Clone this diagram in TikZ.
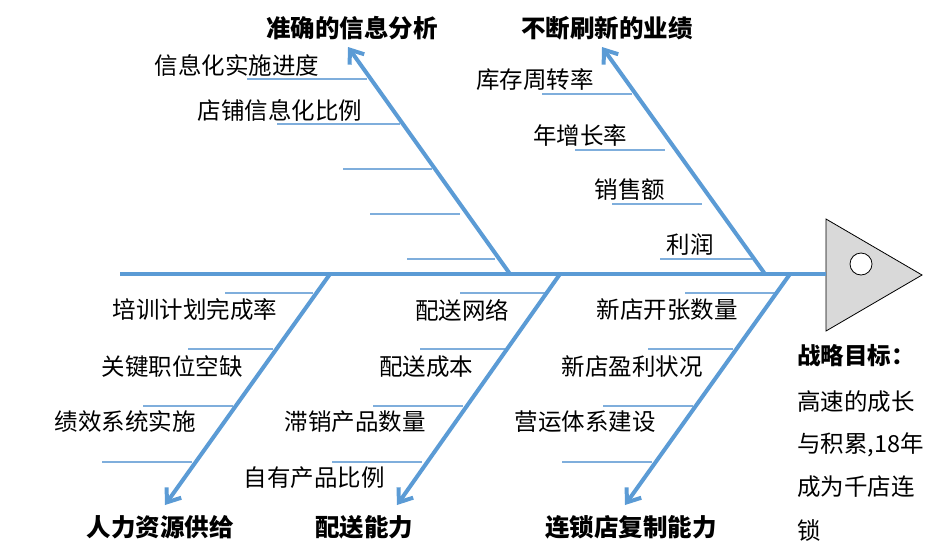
\documentclass[tikz,border=0pt]{standalone}
\usepackage{fontspec}
\setmainfont{Noto Sans CJK SC}
\usetikzlibrary{arrows.meta}
\definecolor{bone}{HTML}{5B9BD5}
\definecolor{rib}{HTML}{7FAEDC}
\definecolor{headfill}{HTML}{D9D9D9}
\begin{document}
\begin{tikzpicture}[x=1pt,y=-1pt,
  bonel/.style={draw=bone,line width=4pt},
  bonearrow/.style={bonel,-{Straight Barb[length=12pt,width=18pt]}},
  ribl/.style={draw=rib,line width=1.3pt},
  lbl/.style={inner sep=0pt,font=\fontsize{23.5}{26}\selectfont},
  ttl/.style={inner sep=0pt,font=\fontsize{24.5}{28}\selectfont\bfseries},
  goal/.style={inner sep=0pt,anchor=west,font=\fontsize{23.5}{26}\selectfont}]
\useasboundingbox (0,0) rectangle (941,555);
% head
\coordinate (spineL) at (120,274);
\draw[draw=black,line width=0.8pt,fill=headfill] (826,219) coordinate (hA) -- (922,275) coordinate (hB) -- (826,331) coordinate (hC) -- cycle;
\coordinate (spineR) at (826,274);
\node[draw=black,line width=0.8pt,fill=white,circle,minimum size=22pt,inner sep=0pt] (eye) at (861,264) {};
% spine
\draw[bonel] (spineL) -- (spineR);
% bone roots and tips
\coordinate (ulR) at (510,274); \coordinate (ulT) at (348,47);
\coordinate (urR) at (765,274); \coordinate (urT) at (602,47);
\coordinate (llR) at (330,274); \coordinate (llT) at (165,505);
\coordinate (lmR) at (560,274); \coordinate (lmT) at (397,505);
\coordinate (lrR) at (790,274); \coordinate (lrT) at (625,505);
% ribs
\foreach \a/\b/\y in {247/367/79,277/400/124,343/432/169,370/460/214,407/495/259,
  542/632/94,575/665/150,612/702/204,660/752/259,
  225/313/293,188/273/349,143/233/406,102/192/462,
  460/545/293,420/505/349,373/463/406,332/422/462,
  685/777/293,648/733/349,603/693/406,562/652/462}
  \draw[ribl] (\a,\y) -- (\b,\y);
% bones
\draw[bonearrow] (ulR) -- (ulT);
\draw[bonearrow] (urR) -- (urT);
\draw[bonearrow] (llR) -- (llT);
\draw[bonearrow] (lmR) -- (lmT);
\draw[bonearrow] (lrR) -- (lrT);
% titles
\node[ttl] (t1) at (352,28) {准确的信息分析};
\node[ttl] (t2) at (607,28) {不断刷新的业绩};
\node[ttl] (t3) at (160,527) {人力资源供给};
\node[ttl] (t4) at (364,527) {配送能力};
\node[ttl] (t5) at (631,527) {连锁店复制能力};
% labels
\node[lbl] (a1) at (237,65) {信息化实施进度};
\node[lbl] (a2) at (280,110) {店铺信息化比例};
\node[lbl] (b1) at (535,80) {库存周转率};
\node[lbl] (b2) at (580,135) {年增长率};
\node[lbl] (b3) at (630,190) {销售额};
\node[lbl] (b4) at (690,245) {利润};
\node[lbl] (c1) at (195,310) {培训计划完成率};
\node[lbl] (c2) at (172,367) {关键职位空缺};
\node[lbl] (c3) at (125,422) {绩效系统实施};
\node[lbl] (d1) at (462,310) {配送网络};
\node[lbl] (d2) at (426,367) {配送成本};
\node[lbl] (d3) at (355,422) {滞销产品数量};
\node[lbl] (d4) at (314,478) {自有产品比例};
\node[lbl] (e1) at (667,310) {新店开张数量};
\node[lbl] (e2) at (632,367) {新店盈利状况};
\node[lbl] (e3) at (585,422) {营运体系建设};
% goal text
\node[goal,font=\fontsize{23.5}{26}\selectfont\bfseries] (g1) at (797,356) {战略目标：};
\node[goal] (g2) at (797,402) {高速的成长};
\node[goal] (g3) at (797,445) {与积累,18年};
\node[goal] (g4) at (797,487) {成为千店连};
\node[goal] (g5) at (797,530) {锁};
\end{tikzpicture}
\end{document}
